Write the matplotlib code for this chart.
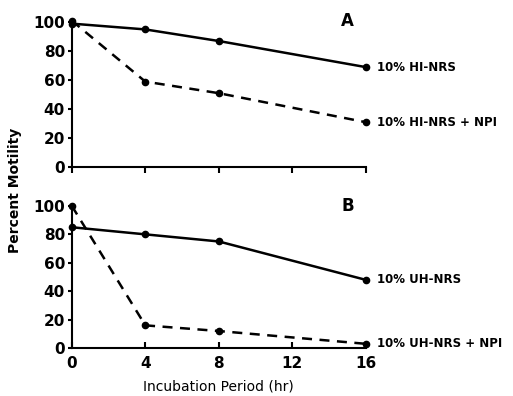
import matplotlib
matplotlib.use('Agg')
import matplotlib.pyplot as plt

# Data
hours = [0, 4, 8, 16]
hi_nrs = [99, 95, 87, 69]
hi_nrs_npi = [101, 59, 51, 31]
uh_nrs = [85, 80, 75, 48]
uh_nrs_npi = [100, 16, 12, 3]

x_ticks = [0, 4, 8, 12, 16]
y_ticks = [0, 20, 40, 60, 80, 100]

plt.rcParams['font.family'] = 'DejaVu Sans'
plt.rcParams['font.weight'] = 'bold'

fig = plt.figure(figsize=(5.13, 3.96), dpi=100)
ax1 = fig.add_axes([0.140, 0.578, 0.573, 0.366])
ax2 = fig.add_axes([0.140, 0.121, 0.573, 0.359])


def style_axes(ax, show_xlabels):
    ax.set_xlim(0, 16)
    ax.set_ylim(0, 100)
    ax.spines['top'].set_visible(False)
    ax.spines['right'].set_visible(False)
    ax.spines['left'].set_linewidth(1.5)
    ax.spines['bottom'].set_linewidth(1.5)
    ax.set_yticks(y_ticks)
    ax.set_xticks(x_ticks)
    ax.tick_params(axis='y', direction='out', length=3, width=1.5, labelsize=11, pad=2)
    if show_xlabels:
        ax.tick_params(axis='x', direction='in', length=4, width=1.5, labelsize=11, pad=6)
    else:
        ax.tick_params(axis='x', direction='out', length=4, width=1.5, labelbottom=False)


def plot_pair(ax, solid, dashed, solid_label, dashed_label):
    ax.plot(hours, solid, color='black', lw=1.8, marker='o', ms=4.5, clip_on=False)
    ax.plot(hours, dashed, color='black', lw=1.8, ls=(0, (4, 3)), marker='o', ms=4.5, clip_on=False)
    ax.text(16.6, solid[-1], solid_label, fontsize=8.5, fontweight='bold', va='center', ha='left')
    ax.text(16.6, dashed[-1], dashed_label, fontsize=8.5, fontweight='bold', va='center', ha='left')


plot_pair(ax1, hi_nrs, hi_nrs_npi, '10% HI-NRS', '10% HI-NRS + NPI')
plot_pair(ax2, uh_nrs, uh_nrs_npi, '10% UH-NRS', '10% UH-NRS + NPI')

style_axes(ax1, False)
style_axes(ax2, True)

ax1.text(15.0, 101, 'A', fontsize=12, fontweight='bold', ha='center', va='center')
ax2.text(15.0, 100, 'B', fontsize=12, fontweight='bold', ha='center', va='center')

ax2.set_xlabel('Incubation Period (hr)', fontsize=10, fontweight='normal', labelpad=6)
fig.text(0.03, 0.52, 'Percent Motility', rotation=90, fontsize=10, va='center', ha='center')

fig.savefig('out.png', dpi=100)
